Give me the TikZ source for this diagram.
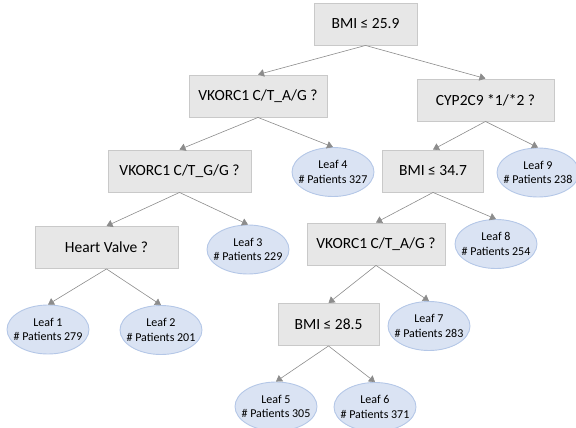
\documentclass[tikz,border=0pt]{standalone}
\usepackage{fontspec}
\setmainfont{Carlito}
\usepackage{tikz}
\usetikzlibrary{shapes.geometric,arrows.meta}
\definecolor{splitfill}{HTML}{E7E7E7}
\definecolor{splitdraw}{HTML}{C9C9C9}
\definecolor{leaffill}{HTML}{DAE3F3}
\definecolor{leafdraw}{HTML}{B4C7E7}
\definecolor{edgegray}{HTML}{8C8C8C}

\begin{document}
\begin{tikzpicture}[
  x=1pt,
  y=-1pt,
  split/.style={draw=splitdraw, line width=0.9pt, fill=splitfill, minimum height=42pt, inner sep=0pt, font=\fontsize{15.5}{17}\selectfont},
  leaf/.style={ellipse, draw=leafdraw, line width=0.9pt, fill=leaffill, minimum width=82pt, minimum height=49pt, inner xsep=-7pt, inner ysep=0pt, align=center, font=\fontsize{12}{14.5}\selectfont},
  edge/.style={draw=edgegray, line width=0.6pt, -{Triangle[length=6pt, width=7.5pt]}}
]
\useasboundingbox (0,0) rectangle (576,428);
% split nodes
\node[split, minimum width=103pt] (bmi259) at (365.5,24) {BMI ≤ 25.9};
\node[split, minimum width=138pt] (vkag) at (258,96) {VKORC1 C/T\_A/G ?};
\node[split, minimum width=137pt] (cyp) at (485.5,100) {CYP2C9 *1/*2 ?};
\node[split, minimum width=143pt] (vkgg) at (179.5,171) {VKORC1 C/T\_G/G ?};
\node[split, minimum width=101pt] (bmi347) at (433,171) {BMI ≤ 34.7};
\node[split, minimum width=143pt] (valve) at (106.5,247.5) {Heart Valve ?};
\node[split, minimum width=138pt] (vkag2) at (376,244) {VKORC1 C/T\_A/G ?};
\node[split, minimum width=101pt] (bmi285) at (328.5,324.5) {BMI ≤ 28.5};
% leaves
\node[leaf] (leaf1) at (48,329.5) {Leaf 1\\\# Patients 279};
\node[leaf] (leaf2) at (161,330) {Leaf 2\\\# Patients 201};
\node[leaf] (leaf3) at (248,249.5) {Leaf 3\\\# Patients 229};
\node[leaf] (leaf4) at (333,172) {Leaf 4\\\# Patients 327};
\node[leaf] (leaf5) at (276,406.5) {Leaf 5\\\# Patients 305};
\node[leaf] (leaf6) at (375,407) {Leaf 6\\\# Patients 371};
\node[leaf] (leaf7) at (429,326) {Leaf 7\\\# Patients 283};
\node[leaf] (leaf8) at (496,244) {Leaf 8\\\# Patients 254};
\node[leaf] (leaf9) at (538,172.5) {Leaf 9\\\# Patients 238};
% edges
\draw[edge] (bmi259.south) -- (vkag.north);
\draw[edge] (bmi259.south) -- (cyp.north);
\draw[edge] (vkag.south) -- (vkgg.north);
\draw[edge] (vkag.south) -- (leaf4.north);
\draw[edge] (vkgg.south) -- (valve.north);
\draw[edge] (vkgg.south) -- (leaf3.north);
\draw[edge] (valve.south) -- (leaf1.north);
\draw[edge] (valve.south) -- (leaf2.north);
\draw[edge] (cyp.south) -- (bmi347.north);
\draw[edge] (cyp.south) -- (leaf9.north);
\draw[edge] (bmi347.south) -- (vkag2.north);
\draw[edge] (bmi347.south) -- (leaf8.north);
\draw[edge] (vkag2.south) -- (bmi285.north);
\draw[edge] (vkag2.south) -- (leaf7.north);
\draw[edge] (bmi285.south) -- (leaf5.north);
\draw[edge] (bmi285.south) -- (leaf6.north);
\end{tikzpicture}
\end{document}
